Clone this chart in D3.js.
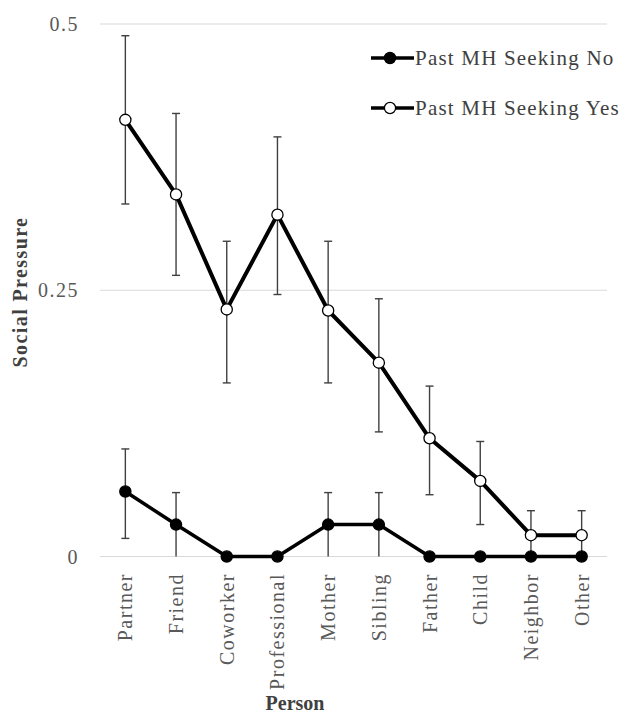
<!DOCTYPE html>
<html><head><meta charset="utf-8">
<script src="https://cdn.jsdelivr.net/npm/d3@7"></script>
<style>html,body{margin:0;padding:0;background:#fff;}</style>
</head><body>
<script>
const categories = ["Partner","Friend","Coworker","Professional","Mother","Sibling","Father","Child","Neighbor","Other"];
const seriesNames = ["Past MH Seeking No","Past MH Seeking Yes"];
const noValues = [0.061,0.030,0,0,0.030,0.030,0,0,0,0];
const noLower  = [0.017,0,0,0,0,0,0,0,0,0];
const noUpper  = [0.101,0.060,0,0,0.060,0.060,0,0,0,0];
const yesValues = [0.410,0.340,0.232,0.321,0.231,0.182,0.111,0.071,0.020,0.020];
const yesLower  = [0.331,0.264,0.163,0.246,0.163,0.117,0.058,0.030,0.000,0.000];
const yesUpper  = [0.489,0.416,0.296,0.394,0.296,0.242,0.160,0.108,0.043,0.043];
const yTicks = [0,0.25,0.5];
const yTickLabels = ["0","0.25","0.5"];

(function(){
const W=627,H=718;
const svg=d3.select("body").append("svg").attr("width",W).attr("height",H);
const pLeft=100,pRight=607,pTop=24,pBottom=556.5;
const x=d3.scalePoint().domain(categories).range([pLeft,pRight]).padding(0.5);
const y=d3.scaleLinear().domain([0,0.5]).range([pBottom,pTop]);
const font="'Liberation Serif','Times New Roman',serif";

svg.append("g").selectAll("line").data(yTicks).join("line")
  .attr("x1",pLeft).attr("x2",pRight).attr("y1",d=>y(d)).attr("y2",d=>y(d))
  .attr("stroke","#d9d9d9").attr("stroke-width",1.2);
svg.append("g").selectAll("text").data(yTicks).join("text")
  .attr("x",79).attr("y",d=>y(d)+7).attr("text-anchor","end")
  .attr("font-family",font).attr("font-size",20).attr("letter-spacing",1.5).attr("fill","#595959")
  .text((d,i)=>yTickLabels[i]);
svg.append("g").selectAll("text").data(categories).join("text")
  .attr("transform",d=>`translate(${x(d)+7},573) rotate(-90)`)
  .attr("text-anchor","end")
  .attr("font-family",font).attr("font-size",20).attr("letter-spacing",1.5).attr("fill","#595959")
  .text(d=>d);
svg.append("text").attr("transform","translate(27,292) rotate(-90)").attr("text-anchor","middle")
  .attr("font-family",font).attr("font-size",20).attr("letter-spacing",1.4).attr("font-weight","bold").attr("fill","#404040")
  .text("Social Pressure");
svg.append("text").attr("x",295).attr("y",710).attr("text-anchor","middle")
  .attr("font-family",font).attr("font-size",20).attr("font-weight","bold").attr("fill","#404040")
  .text("Person");

function errorBars(lo,hi){
  const g=svg.append("g").attr("stroke","#404040").attr("stroke-width",1.4);
  categories.forEach((c,i)=>{
    if(hi[i]-lo[i]<=0) return;
    const cx=x(c);
    g.append("line").attr("x1",cx).attr("x2",cx).attr("y1",y(lo[i])).attr("y2",y(hi[i]));
    g.append("line").attr("x1",cx-4).attr("x2",cx+4).attr("y1",y(hi[i])).attr("y2",y(hi[i]));
    if(lo[i]>0) g.append("line").attr("x1",cx-4).attr("x2",cx+4).attr("y1",y(lo[i])).attr("y2",y(lo[i]));
  });
}
errorBars(noLower,noUpper);
errorBars(yesLower,yesUpper);

const line=d3.line().x((d,i)=>x(categories[i])).y(d=>y(d));
function series(vals,fill,w){
  svg.append("path").datum(vals).attr("d",line).attr("fill","none")
    .attr("stroke","#000").attr("stroke-width",w).attr("stroke-linejoin","round");
  svg.append("g").selectAll("circle").data(vals).join("circle")
    .attr("cx",(d,i)=>x(categories[i])).attr("cy",d=>y(d)).attr("r",5.6)
    .attr("fill",fill).attr("stroke","#000").attr("stroke-width",1.3);
}
series(noValues,"#000",3.5);
series(yesValues,"#fff",4);

const leg=svg.append("g");
[["#000",58],["#fff",108]].forEach((d,i)=>{
  leg.append("line").attr("x1",371).attr("x2",414).attr("y1",d[1]).attr("y2",d[1])
    .attr("stroke","#000").attr("stroke-width",3.5);
  leg.append("circle").attr("cx",390).attr("cy",d[1]).attr("r",5.6)
    .attr("fill",d[0]).attr("stroke","#000").attr("stroke-width",1.3);
  leg.append("text").attr("x",415).attr("y",d[1]+7).attr("font-family",font)
    .attr("font-size",21).attr("letter-spacing",1.2).attr("fill","#404040").text(seriesNames[i]);
});
})();
</script>
</body></html>
